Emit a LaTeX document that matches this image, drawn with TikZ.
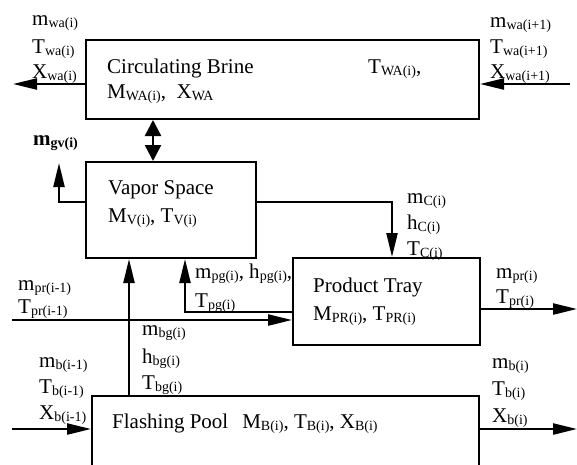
\documentclass[tikz,border=0pt]{standalone}
\usepackage{fontspec}
\setmainfont{Liberation Serif}
\usetikzlibrary{arrows.meta}
\newcommand{\lsub}[1]{\raisebox{-2pt}{\fontsize{14}{14}\selectfont #1}}

\begin{document}
\begin{tikzpicture}[line cap=butt,line join=miter,x=1pt,y=-1pt,
		font=\fontsize{21}{25}\selectfont,
		unit/.style={draw,line width=2pt,inner sep=0pt},
		lbl/.style={anchor=base west,inner sep=0pt},
		flow/.style={line width=2.4pt,-{Triangle[length=24pt,width=11pt]}},
		swap/.style={line width=2.4pt,{Triangle[length=16pt,width=16pt]}-{Triangle[length=16pt,width=16pt]}}]
				\useasboundingbox (0,0) rectangle (577,464);
				\clip (0,0) rectangle (577,464);
				% Units
				\node [unit,minimum width=393pt,minimum height=79pt] (brine) at (282.5,79.5) {};
				\node [unit,minimum width=170pt,minimum height=96pt] (vapor) at (171,210) {};
				\node [unit,minimum width=187pt,minimum height=87pt] (tray) at (386.5,301.5) {};
				\node [unit,minimum width=387pt,minimum height=100pt] (pool) at (285.5,446) {};
				\node [lbl] (brinename) at (107,73) {Circulating Brine};
				\node [lbl] (brineT) at (368,73) {T\lsub{WA(i)},};
				\node [lbl] (brinevar) at (107,98) {M\lsub{WA(i)},~ X\lsub{WA}};
				\node [lbl] (vaporname) at (108,194) {Vapor Space};
				\node [lbl] (vaporvar) at (108,222) {M\lsub{V(i)}, T\lsub{V(i)}};
				\node [lbl] (trayname) at (313,292) {Product Tray};
				\node [lbl] (trayvar) at (313,320) {M\lsub{PR(i)}, T\lsub{PR(i)}};
				\node [lbl] (poolname) at (112,428) {Flashing Pool\hspace{14pt}M\lsub{B(i)}, T\lsub{B(i)}, X\lsub{B(i)}};
				
				% Turning points and free ends
				\coordinate (waout) at (13,84);
				\coordinate (wain) at (570,84);
				\coordinate (swapx) at (153,140);
				\coordinate (gvtop) at (59,163);
				\coordinate (gvknee) at (59,202);
				\coordinate (cknee) at (392,202);
				\coordinate (prout) at (577,309);
				\coordinate (prin) at (12,320);
				\coordinate (pgknee) at (185,312);
				\coordinate (bgx) at (129,330);
				\coordinate (bin) at (12,429);
				\coordinate (bout) at (577,429);
				
				% Streams
				\draw [flow] (brine.west |- waout) -- (waout);
				\draw [flow] (wain) -- (wain -| brine.east);
				\draw [swap] (swapx |- brine.south) -- (swapx |- vapor.north);
				\draw [flow] (vapor.west |- gvknee) -- (gvknee) -- (gvtop);
				\draw [flow] (vapor.east |- cknee) -- (cknee) -- (cknee |- tray.north);
				\draw [flow] (tray.east |- prout) -- (prout);
				\draw [flow] (prin) -- (prin -| tray.west);
				\draw [flow] (tray.west |- pgknee) -- (pgknee) -- (pgknee |- vapor.south);
				\draw [flow] (bgx |- pool.north) -- (bgx |- vapor.south);
				\draw [flow] (bin) -- (bin -| pool.west);
				\draw [flow] (pool.east |- bout) -- (bout);
				
				%% Stream labels
				\node [lbl] (mwa) at (32,25) {m\lsub{wa(i)}};
				\node [lbl] (twa) at (32,53) {T\lsub{wa(i)}};
				\node [lbl] (xwa) at (32,78) {X\lsub{wa(i)}};
				\node [lbl] (mwanext) at (490,27) {m\lsub{wa(i+1)}};
				\node [lbl] (twanext) at (490,53) {T\lsub{wa(i+1)}};
				\node [lbl] (xwanext) at (490,78) {X\lsub{wa(i+1)}};
				\node [lbl] (mgv) at (33,145) {\textbf{m\lsub{gv(i)}}};
				\node [lbl] (mc) at (407,203) {m\lsub{C(i)}};
				\node [lbl] (hc) at (407,229) {h\lsub{C(i)}};
				\node [lbl] (tc) at (407,255) {T\lsub{C(i)}};
				\node [lbl] (mpr) at (496,278) {m\lsub{pr(i)}};
				\node [lbl] (tpr) at (496,303) {T\lsub{pr(i)}};
				\node [lbl] (mprprev) at (18,290) {m\lsub{pr(i-1)}};
				\node [lbl] (tprprev) at (18,313) {T\lsub{pr(i-1)}};
				\node [lbl] (mpg) at (195,278) {m\lsub{pg(i)}, h\lsub{pg(i)},};
				\node [lbl] (tpg) at (195,307) {T\lsub{pg(i)}};
				\node [lbl] (mbg) at (142,335) {m\lsub{bg(i)}};
				\node [lbl] (hbg) at (142,363) {h\lsub{bg(i)}};
				\node [lbl] (tbg) at (142,389) {T\lsub{bg(i)}};
				\node [lbl] (mbprev) at (39,367) {m\lsub{b(i-1)}};
				\node [lbl] (tbprev) at (39,393) {T\lsub{b(i-1)}};
				\node [lbl] (xbprev) at (39,419) {X\lsub{b(i-1)}};
				\node [lbl] (mb) at (492,368) {m\lsub{b(i)}};
				\node [lbl] (tb) at (492,395) {T\lsub{b(i)}};
				\node [lbl] (xb) at (492,422) {X\lsub{b(i)}};
			\end{tikzpicture}
\end{document}
